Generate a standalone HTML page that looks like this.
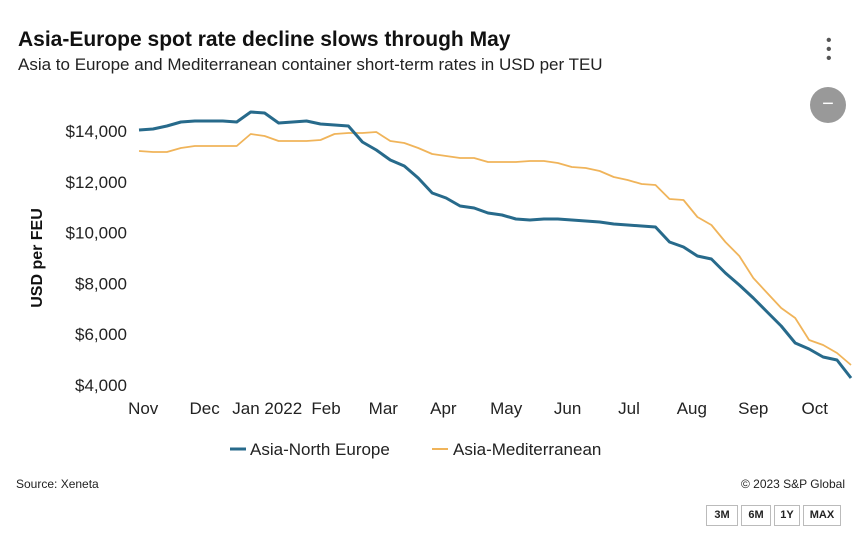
<!DOCTYPE html>
<html><head><meta charset="utf-8"><style>
body{margin:0;width:863px;height:533px;background:#fff;font-family:"Liberation Sans",sans-serif;overflow:hidden;position:relative}
.t{position:absolute;white-space:nowrap}
.btn{position:absolute;top:505px;height:19px;border:1px solid #bbb;font-size:11px;font-weight:bold;line-height:19px;text-align:center;color:#222}
</style></head><body>
<div class="t" style="left:18px;top:28px;font-size:21px;font-weight:bold;color:#111">Asia-Europe spot rate decline slows through May</div>
<div class="t" style="left:18px;top:55px;font-size:17px;color:#222">Asia to Europe and Mediterranean container short-term rates in USD per TEU</div>
<div class="t" style="left:826px;top:36px;font-size:16px;line-height:9px;color:#555">•<br>•<br>•</div>
<div class="t" style="left:810px;top:87px;width:36px;height:36px;border-radius:50%;background:#999;color:#fff;text-align:center;line-height:34px;font-size:20px">−</div>
<svg id="c" width="863" height="533" style="position:absolute;left:0;top:0"></svg>
<div class="t" style="left:16px;top:477px;font-size:12px;color:#222">Source: Xeneta</div>
<div class="t" style="right:18px;top:477px;font-size:12px;color:#222">© 2023 S&amp;P Global</div>
<div class="btn" style="left:706px;width:30px">3M</div>
<div class="btn" style="left:741px;width:28px">6M</div>
<div class="btn" style="left:774px;width:24px">1Y</div>
<div class="btn" style="left:803px;width:36px">MAX</div>
<script>
const northEurope=[14039,14079,14197,14354,14394,14394,14394,14354,14748,14709,14315,14354,14394,14276,14236,14197,13567,13252,12858,12622,12150,11559,11362,11047,10969,10772,10693,10535,10496,10535,10535,10496,10457,10417,10339,10299,10260,10220,9630,9433,9079,8961,8409,7937,7425,6874,6323,5654,5417,5102,4984,4276];
const mediterranean=[13213,13173,13173,13331,13409,13409,13409,13409,13882,13803,13606,13606,13606,13646,13882,13921,13921,13961,13606,13527,13331,13094,13016,12937,12937,12780,12780,12780,12819,12819,12740,12583,12543,12425,12189,12071,11913,11874,11323,11283,10614,10299,9630,9079,8213,7622,7031,6638,5772,5575,5260,4787];
const yTicks=[4000,6000,8000,10000,12000,14000];
const monthLabels=["Nov","Dec","Jan 2022","Feb","Mar","Apr","May","Jun","Jul","Aug","Sep","Oct"];
const monthWeek=[0.3,4.7,8.9,13.4,17.5,21.8,26.3,30.7,35.1,39.6,44,48.4];
const NS="http://www.w3.org/2000/svg";
const svg=document.getElementById('c');
const xS=i=>139+i*(851-139)/(northEurope.length-1);
const yS=v=>385-(v-4000)*0.0254;
function mk(t,a){const e=document.createElementNS(NS,t);for(const k in a)e.setAttribute(k,a[k]);svg.appendChild(e);return e;}
yTicks.forEach(v=>{const t=mk('text',{x:127,y:yS(v)+6,'text-anchor':'end','font-size':17,fill:'#222'});t.textContent='$'+v.toLocaleString('en-US');

});
monthLabels.forEach((m,i)=>{const t=mk('text',{x:xS(monthWeek[i])+(i==2?4:0),y:414,'text-anchor':'middle','font-size':17,fill:'#222'});t.textContent=m;

});
const yt=mk('text',{x:0,y:0,transform:'translate(42,258) rotate(-90)','text-anchor':'middle','font-size':16,'font-weight':'bold',fill:'#111'});yt.textContent='USD per FEU';


function line(d,col,w,name){const p=mk('path',{d:d.map((v,i)=>(i?'L':'M')+xS(i).toFixed(1)+','+yS(v).toFixed(1)).join(''),fill:'none',stroke:col,'stroke-width':w,'stroke-linejoin':'round'});

}
line(mediterranean,'#f0b45a',1.8,'mediterranean-line');
line(northEurope,'#276a8b',3,'north-europe-line');
const l1=mk('line',{x1:230,y1:449,x2:246,y2:449,stroke:'#276a8b','stroke-width':3});


const t1=mk('text',{x:250,y:455,'font-size':17,fill:'#222'});t1.textContent='Asia-North Europe';


const l2=mk('line',{x1:432,y1:449,x2:448,y2:449,stroke:'#f0b45a','stroke-width':2});


const t2=mk('text',{x:453,y:455,'font-size':17,fill:'#222'});t2.textContent='Asia-Mediterranean';


</script>
</body></html>
